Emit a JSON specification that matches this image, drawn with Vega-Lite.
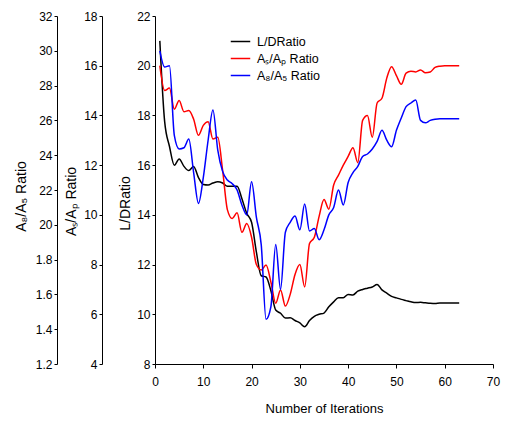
{
  "$schema": "https://vega.github.io/schema/vega-lite/v6.json",
  "width": 338,
  "height": 348,
  "autosize": {"type": "none"},
  "padding": {"left": 155, "top": 16, "right": 13, "bottom": 62},
  "background": "white",
  "config": {
    "view": {"stroke": null},
    "font": "Liberation Sans",
    "axis": {
      "labelFont": "Liberation Sans",
      "labelFontSize": 12,
      "labelColor": "black",
      "titleFont": "Liberation Sans",
      "titleFontSize": 14,
      "titleFontWeight": "normal",
      "titleColor": "black",
      "domainColor": "black",
      "tickColor": "black",
      "grid": false,
      "tickSize": 3,
      "labelPadding": 2
    },
    "legend": {
      "labelFont": "Liberation Sans",
      "labelFontSize": 12.5,
      "labelColor": "black"
    }
  },
  "data": {
    "values": [
      {"i": 1, "ld": 21.0, "sp": 16.0, "a": 3.0},
      {"i": 2, "ld": 17.75, "sp": 15.0, "a": 2.907},
      {"i": 3, "ld": 16.75, "sp": 15.1, "a": 2.914},
      {"i": 4, "ld": 16.0, "sp": 14.25, "a": 2.514},
      {"i": 5, "ld": 16.25, "sp": 14.6, "a": 2.436},
      {"i": 6, "ld": 15.95, "sp": 14.15, "a": 2.443},
      {"i": 7, "ld": 15.78, "sp": 14.2, "a": 2.493},
      {"i": 8, "ld": 15.95, "sp": 13.85, "a": 2.3},
      {"i": 9, "ld": 15.5, "sp": 13.2, "a": 2.123},
      {"i": 10, "ld": 15.22, "sp": 13.6, "a": 2.271},
      {"i": 11, "ld": 15.2, "sp": 13.75, "a": 2.486},
      {"i": 12, "ld": 15.28, "sp": 13.05, "a": 2.66},
      {"i": 13, "ld": 15.33, "sp": 13.12, "a": 2.429},
      {"i": 14, "ld": 15.28, "sp": 11.8, "a": 2.307},
      {"i": 15, "ld": 15.15, "sp": 10.2, "a": 2.257},
      {"i": 16, "ld": 15.15, "sp": 9.85, "a": 2.236},
      {"i": 17, "ld": 15.15, "sp": 10.08, "a": 2.2},
      {"i": 18, "ld": 14.65, "sp": 9.3, "a": 2.114},
      {"i": 19, "ld": 14.06, "sp": 9.65, "a": 2.057},
      {"i": 20, "ld": 13.7, "sp": 9.1, "a": 2.247},
      {"i": 21, "ld": 12.5, "sp": 8.0, "a": 2.043},
      {"i": 22, "ld": 11.55, "sp": 7.78, "a": 1.886},
      {"i": 23, "ld": 11.5, "sp": 7.98, "a": 1.457},
      {"i": 24, "ld": 10.95, "sp": 7.3, "a": 1.529},
      {"i": 25, "ld": 10.17, "sp": 6.44, "a": 1.887},
      {"i": 26, "ld": 10.04, "sp": 6.98, "a": 1.629},
      {"i": 27, "ld": 9.85, "sp": 6.33, "a": 1.957},
      {"i": 28, "ld": 9.86, "sp": 6.8, "a": 2.014},
      {"i": 29, "ld": 9.75, "sp": 7.6, "a": 2.05},
      {"i": 30, "ld": 9.65, "sp": 8.0, "a": 1.971},
      {"i": 31, "ld": 9.5, "sp": 7.1, "a": 2.119},
      {"i": 32, "ld": 9.75, "sp": 8.85, "a": 1.964},
      {"i": 33, "ld": 9.92, "sp": 9.1, "a": 1.979},
      {"i": 34, "ld": 10.0, "sp": 9.95, "a": 1.914},
      {"i": 35, "ld": 10.05, "sp": 10.62, "a": 1.971},
      {"i": 36, "ld": 10.3, "sp": 10.23, "a": 2.057},
      {"i": 37, "ld": 10.5, "sp": 11.2, "a": 2.1},
      {"i": 38, "ld": 10.67, "sp": 11.6, "a": 2.2},
      {"i": 39, "ld": 10.67, "sp": 12.0, "a": 2.114},
      {"i": 40, "ld": 10.8, "sp": 12.35, "a": 2.243},
      {"i": 41, "ld": 10.78, "sp": 12.7, "a": 2.3},
      {"i": 42, "ld": 10.93, "sp": 12.1, "a": 2.336},
      {"i": 43, "ld": 11.0, "sp": 13.8, "a": 2.393},
      {"i": 44, "ld": 11.05, "sp": 14.0, "a": 2.407},
      {"i": 45, "ld": 11.1, "sp": 13.12, "a": 2.436},
      {"i": 46, "ld": 11.2, "sp": 14.5, "a": 2.479},
      {"i": 47, "ld": 10.98, "sp": 14.69, "a": 2.543},
      {"i": 48, "ld": 10.85, "sp": 15.5, "a": 2.486},
      {"i": 49, "ld": 10.72, "sp": 15.96, "a": 2.449},
      {"i": 50, "ld": 10.66, "sp": 15.6, "a": 2.543},
      {"i": 51, "ld": 10.6, "sp": 15.25, "a": 2.614},
      {"i": 52, "ld": 10.55, "sp": 15.7, "a": 2.679},
      {"i": 53, "ld": 10.5, "sp": 15.78, "a": 2.7},
      {"i": 54, "ld": 10.47, "sp": 15.75, "a": 2.717},
      {"i": 55, "ld": 10.48, "sp": 15.83, "a": 2.6},
      {"i": 56, "ld": 10.46, "sp": 15.72, "a": 2.586},
      {"i": 57, "ld": 10.44, "sp": 15.75, "a": 2.6},
      {"i": 58, "ld": 10.43, "sp": 15.93, "a": 2.607},
      {"i": 59, "ld": 10.45, "sp": 15.98, "a": 2.61},
      {"i": 60, "ld": 10.45, "sp": 16.0, "a": 2.61},
      {"i": 61, "ld": 10.45, "sp": 16.0, "a": 2.61},
      {"i": 62, "ld": 10.45, "sp": 16.0, "a": 2.61},
      {"i": 63, "ld": 10.45, "sp": 16.0, "a": 2.61}
    ]
  },
  "encoding": {
    "x": {
      "field": "i",
      "type": "quantitative",
      "scale": {"domain": [0, 70], "nice": false},
      "axis": {
        "title": "Number of Iterations",
        "values": [0, 10, 20, 30, 40, 50, 60, 70],
        "tickSize": 4,
        "labelPadding": 8,
        "titlePadding": 15,
        "titleFontSize": 13,
        "labelFlush": false
      }
    }
  },
  "layer": [
    {
      "mark": {"type": "line", "interpolate": "monotone", "strokeWidth": 1.5},
      "encoding": {
        "y": {
          "field": "ld",
          "type": "quantitative",
          "scale": {"domain": [8, 22], "nice": false, "zero": false},
          "axis": {
            "orient": "left",
            "title": "L/DRatio",
            "values": [8, 10, 12, 14, 16, 18, 20, 22],
            "titlePadding": 4,
            "titleY": 187
          }
        },
        "color": {
          "datum": "L/DRatio",
          "type": "nominal",
          "scale": {
            "domain": ["L/DRatio", "Aₛ/Aₚ Ratio", "A₈/A₅ Ratio"],
            "range": ["black", "red", "blue"]
          },
          "legend": {
            "title": null,
            "orient": "none",
            "legendX": 75,
            "legendY": 15,
            "symbolType": "stroke",
            "symbolSize": 380,
            "symbolStrokeWidth": 1.5,
            "rowPadding": 0,
            "labelOffset": 6,
            "padding": 0
          }
        }
      }
    },
    {
      "mark": {"type": "line", "interpolate": "monotone", "strokeWidth": 1.5},
      "encoding": {
        "y": {
          "field": "sp",
          "type": "quantitative",
          "scale": {"domain": [4, 18], "nice": false, "zero": false},
          "axis": {
            "orient": "left",
            "offset": 53,
            "title": "Aₛ/Aₚ Ratio",
            "values": [4, 6, 8, 10, 12, 14, 16, 18],
            "titlePadding": 5,
            "titleY": 185
          }
        },
        "color": {"datum": "Aₛ/Aₚ Ratio", "type": "nominal"}
      }
    },
    {
      "mark": {"type": "line", "interpolate": "monotone", "strokeWidth": 1.5},
      "encoding": {
        "y": {
          "field": "a",
          "type": "quantitative",
          "scale": {"domain": [1.2, 3.2], "nice": false, "zero": false},
          "axis": {
            "orient": "left",
            "offset": 98,
            "title": "A₈/A₅ Ratio",
            "values": [1.2, 1.4, 1.6, 1.8, 2.0, 2.2, 2.4, 2.6, 2.8, 3.0, 3.2],
            "labelExpr": "datum.value >= 1.99 ? replace(format(datum.value, '.1f'), '.', '') : format(datum.value, '.1f')",
            "titlePadding": 7,
            "titleY": 180
          }
        },
        "color": {"datum": "A₈/A₅ Ratio", "type": "nominal"}
      }
    }
  ],
  "resolve": {"scale": {"y": "independent"}, "axis": {"y": "independent"}}
}
